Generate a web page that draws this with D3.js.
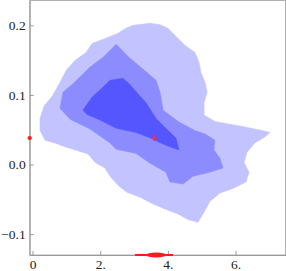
<!DOCTYPE html>
<html>
<head>
<meta charset="utf-8">
<script src="https://cdn.jsdelivr.net/npm/d3@7"></script>
<style>
  html, body { margin: 0; padding: 0; background: #fff; }
  svg { display: block; }
  .tick text { font-family: "Liberation Serif", "DejaVu Serif", serif; font-size: 13.5px; fill: #222; }
</style>
</head>
<body>
<div id="chart"></div>
<script>
// contour levels of the density, outer -> inner (data coordinates)
const levelLight = [
    [2.97, 0.200], [3.47, 0.203], [3.77, 0.201], [4.00, 0.196], [4.24, 0.184],
    [4.51, 0.171], [4.80, 0.161], [4.92, 0.147], [4.98, 0.132], [5.10, 0.118],
    [5.16, 0.104], [5.07, 0.089], [5.07, 0.071], [5.39, 0.062], [5.84, 0.058],
    [6.28, 0.054], [6.78, 0.049], [7.02, 0.046], [6.84, 0.039], [6.57, 0.031],
    [6.34, 0.018], [6.25, 0.003], [6.40, -0.011], [6.31, -0.025], [5.89, -0.035],
    [5.54, -0.041], [5.24, -0.053], [5.10, -0.066], [4.89, -0.083], [4.59, -0.079],
    [4.30, -0.071], [3.91, -0.064], [3.53, -0.056], [3.18, -0.047], [2.79, -0.040],
    [2.53, -0.030], [2.29, -0.017], [2.14, -0.005], [1.85, 0.003], [1.64, 0.015],
    [1.26, 0.021], [0.93, 0.026], [0.66, 0.031], [0.37, 0.035], [0.22, 0.049],
    [0.22, 0.066], [0.34, 0.084], [0.58, 0.098], [0.81, 0.118], [0.99, 0.135],
    [1.26, 0.150], [1.58, 0.161], [1.76, 0.174], [2.14, 0.181], [2.50, 0.188],
    [2.76, 0.196]
];
const levelMedium = [
    [2.47, 0.173], [2.85, 0.154], [3.27, 0.137], [3.65, 0.121], [3.77, 0.104],
    [3.86, 0.078], [4.33, 0.061], [4.80, 0.049], [5.10, 0.044], [5.39, 0.035],
    [5.36, 0.021], [5.54, 0.009], [5.63, -0.005], [5.24, -0.011], [4.74, -0.017],
    [4.45, -0.028], [4.06, -0.025], [3.94, -0.011], [3.47, 0.002], [3.06, 0.016],
    [2.47, 0.022], [2.29, 0.031], [1.70, 0.051], [1.11, 0.065], [0.81, 0.081],
    [0.90, 0.104], [1.17, 0.115], [1.70, 0.140], [2.08, 0.154], [2.29, 0.164]
];
const levelDark = [
    [1.49, 0.078], [1.76, 0.097], [1.99, 0.107], [2.29, 0.121], [2.67, 0.124],
    [2.88, 0.115], [3.18, 0.098], [3.35, 0.089], [3.65, 0.066], [3.94, 0.052],
    [4.24, 0.038], [4.33, 0.021], [4.03, 0.026], [3.74, 0.032], [3.44, 0.039],
    [3.06, 0.046], [2.47, 0.052], [1.99, 0.064], [1.61, 0.072]
];
const levelColors = ["#c3c3ff", "#8c8cff", "#5656ff"];

// estimate and its marginals
const estimate = [3.60, 0.038];
const marginalX = [3.03, 3.35, 3.65, 3.94, 4.15];   // lo, q1, mid, q3, hi

const xTicks = [0, 2, 4, 6],
    xTickLabels = ["0", "2.", "4.", "6."];
const yTicks = [-0.1, 0, 0.1, 0.2],
    yTickLabels = ["\u22120.1", "0.0", "0.1", "0.2"];

const width = 286,
    height = 271,
    plotLeft = 29.7,
    plotRight = 285.5,
    plotTop = 0.5,
    plotBottom = 255;

const x = d3.scaleLinear().domain([-0.083, 7.475]).range([plotLeft, plotRight]),
    y = d3.scaleLinear().domain([-0.130, 0.2357]).range([plotBottom, plotTop]);

const svg = d3.select("#chart").append("svg").
    attr("width", width).
    attr("height", height);

const line = d3.line().
    x((d) => x(d[0])).
    y((d) => y(d[1])).
    curve(d3.curveLinearClosed);

svg.append("g").
    selectAll("path").
    data([levelLight, levelMedium, levelDark]).
    enter().
    append("path").
    attr("d", line).
    attr("fill", (d, i) => levelColors[i]).
    attr("stroke", (d, i) => levelColors[i]).
    attr("stroke-width", 0.5);

// frame
svg.append("rect").
    attr("x", plotLeft).
    attr("y", plotTop).
    attr("width", plotRight - plotLeft).
    attr("height", plotBottom - plotTop).
    attr("fill", "none").
    attr("stroke", "#b0b0b0").
    attr("stroke-width", 1);

const xAxis = svg.append("g").
    attr("transform", `translate(0,${plotBottom})`).
    call(d3.axisBottom(x).
        tickValues(xTicks).
        tickFormat((d, i) => xTickLabels[i]).
        tickSizeInner(-4).
        tickSizeOuter(0).
        tickPadding(4.5));

const yAxis = svg.append("g").
    attr("transform", `translate(${plotLeft},0)`).
    call(d3.axisLeft(y).
        tickValues(yTicks).
        tickFormat((d, i) => yTickLabels[i]).
        tickSizeInner(-4).
        tickSizeOuter(0).
        tickPadding(4));

[xAxis, yAxis].forEach((g) => {
    g.select(".domain").attr("stroke", "#999");
    g.selectAll(".tick line").attr("stroke", "#999");
});

// marginal marker on the x axis
svg.append("line").
    attr("x1", x(marginalX[0])).
    attr("x2", x(marginalX[4])).
    attr("y1", plotBottom).
    attr("y2", plotBottom).
    attr("stroke", "#ff1a1a").
    attr("stroke-width", 2);
svg.append("ellipse").
    attr("cx", x(marginalX[2])).
    attr("cy", plotBottom).
    attr("rx", (x(marginalX[3]) - x(marginalX[1])) / 2).
    attr("ry", 2.5).
    attr("fill", "#ff1a1a");

// marginal marker on the y axis
svg.append("ellipse").
    attr("cx", plotLeft).
    attr("cy", y(estimate[1])).
    attr("rx", 2.2).
    attr("ry", 2).
    attr("fill", "#ff1a1a");

// point estimate
const ex = x(estimate[0]),
    ey = y(estimate[1]);
svg.append("path").
    attr("d", `M${ex - 3},${ey}H${ex + 3}M${ex},${ey - 3}V${ey + 3}`).
    attr("stroke", "#e8305a").
    attr("stroke-width", 1.2);
</script>
</body>
</html>
